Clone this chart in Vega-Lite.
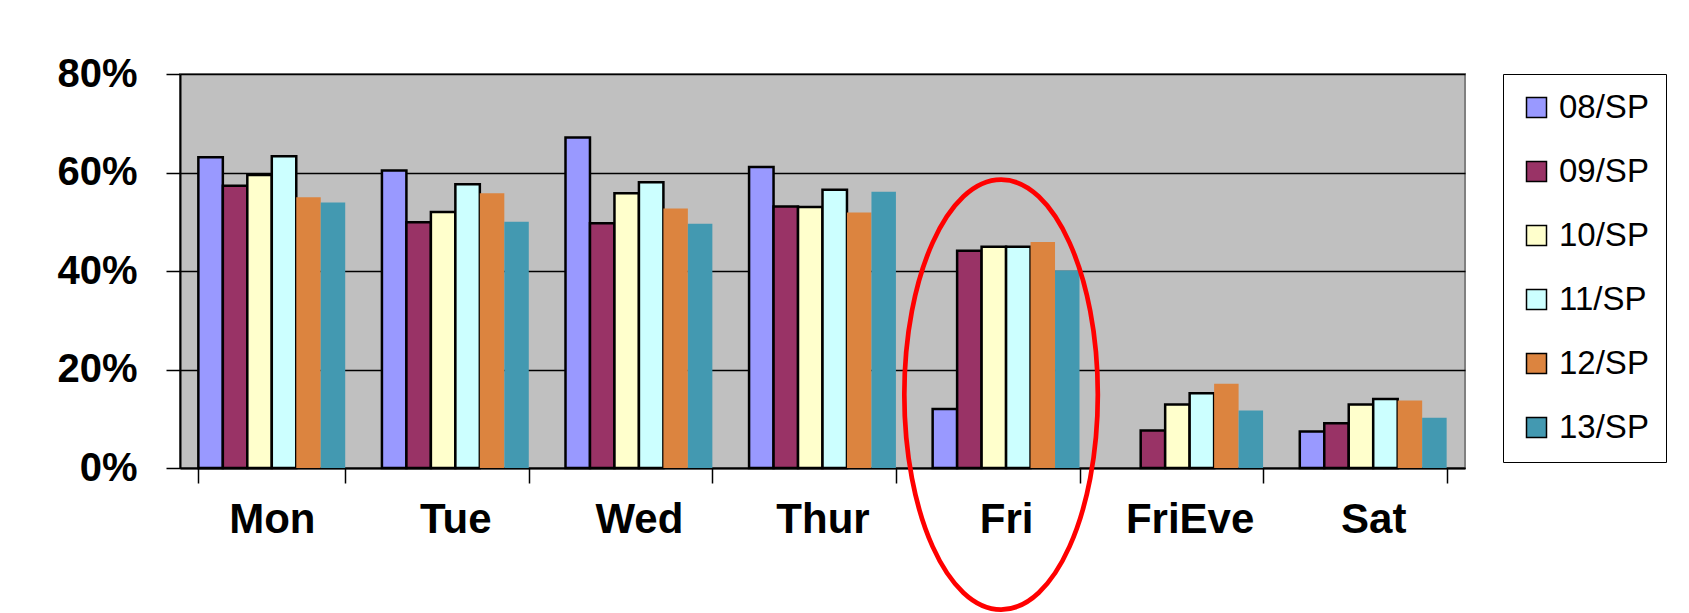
{
  "$schema": "https://vega.github.io/schema/vega-lite/v6.json",
  "autosize": "none",
  "width": 1285,
  "height": 394,
  "padding": {"left": 180, "top": 74, "right": 224, "bottom": 145},
  "background": "white",
  "config": {
    "font": "Liberation Sans",
    "view": {"fill": "#C0C0C0", "stroke": "#808080", "strokeWidth": 2}
  },
  "datasets": {
    "bars": [
      {"day": "Mon", "series": "08/SP", "value": 63.1},
      {"day": "Mon", "series": "09/SP", "value": 57.3},
      {"day": "Mon", "series": "10/SP", "value": 59.5},
      {"day": "Mon", "series": "11/SP", "value": 63.3},
      {"day": "Mon", "series": "12/SP", "value": 55.0},
      {"day": "Mon", "series": "13/SP", "value": 53.9},
      {"day": "Tue", "series": "08/SP", "value": 60.4},
      {"day": "Tue", "series": "09/SP", "value": 49.9},
      {"day": "Tue", "series": "10/SP", "value": 52.0},
      {"day": "Tue", "series": "11/SP", "value": 57.6},
      {"day": "Tue", "series": "12/SP", "value": 55.8},
      {"day": "Tue", "series": "13/SP", "value": 50.0},
      {"day": "Wed", "series": "08/SP", "value": 67.1},
      {"day": "Wed", "series": "09/SP", "value": 49.7},
      {"day": "Wed", "series": "10/SP", "value": 55.8},
      {"day": "Wed", "series": "11/SP", "value": 58.0},
      {"day": "Wed", "series": "12/SP", "value": 52.7},
      {"day": "Wed", "series": "13/SP", "value": 49.6},
      {"day": "Thur", "series": "08/SP", "value": 61.1},
      {"day": "Thur", "series": "09/SP", "value": 53.1},
      {"day": "Thur", "series": "10/SP", "value": 53.0},
      {"day": "Thur", "series": "11/SP", "value": 56.5},
      {"day": "Thur", "series": "12/SP", "value": 51.9},
      {"day": "Thur", "series": "13/SP", "value": 56.1},
      {"day": "Fri", "series": "08/SP", "value": 12.0},
      {"day": "Fri", "series": "09/SP", "value": 44.1},
      {"day": "Fri", "series": "10/SP", "value": 44.9},
      {"day": "Fri", "series": "11/SP", "value": 44.9},
      {"day": "Fri", "series": "12/SP", "value": 45.9},
      {"day": "Fri", "series": "13/SP", "value": 40.1},
      {"day": "FriEve", "series": "09/SP", "value": 7.6},
      {"day": "FriEve", "series": "10/SP", "value": 12.9},
      {"day": "FriEve", "series": "11/SP", "value": 15.2},
      {"day": "FriEve", "series": "12/SP", "value": 17.1},
      {"day": "FriEve", "series": "13/SP", "value": 11.7},
      {"day": "Sat", "series": "08/SP", "value": 7.4},
      {"day": "Sat", "series": "09/SP", "value": 9.1},
      {"day": "Sat", "series": "10/SP", "value": 12.9},
      {"day": "Sat", "series": "11/SP", "value": 14.0},
      {"day": "Sat", "series": "12/SP", "value": 13.7},
      {"day": "Sat", "series": "13/SP", "value": 10.2}
    ],
    "highlight": [
      {"day": "Fri", "value": 14.9}
    ]
  },
  "layer": [
    {
      "data": {"name": "bars"},
      "mark": {"type": "bar", "stroke": "black"},
      "encoding": {
        "x": {
          "field": "day",
          "type": "nominal",
          "sort": ["Mon", "Tue", "Wed", "Thur", "Fri", "FriEve", "Sat"],
          "scale": {"paddingInner": 0.2, "paddingOuter": 0.1},
          "axis": {
            "title": null,
            "labelAngle": 0,
            "labelFontSize": 42,
            "labelFontWeight": "bold",
            "labelColor": "black",
            "labelPadding": 16,
            "tickSize": 15,
            "tickColor": "black",
            "tickWidth": 1.5,
            "tickBand": "extent",
            "domainColor": "black",
            "domainWidth": 2,
            "grid": false
          }
        },
        "xOffset": {
          "field": "series",
          "type": "nominal",
          "scale": {"paddingInner": 0, "paddingOuter": 0}
        },
        "y": {
          "field": "value",
          "type": "quantitative",
          "scale": {"domain": [0, 80], "nice": false},
          "axis": {
            "title": null,
            "values": [0, 20, 40, 60, 80],
            "labelExpr": "datum.value + '%'",
            "labelFontSize": 40,
            "labelFontWeight": "bold",
            "labelColor": "black",
            "labelPadding": 29,
            "tickSize": 14,
            "tickColor": "black",
            "tickWidth": 1.5,
            "domainColor": "black",
            "domainWidth": 2,
            "grid": true,
            "gridColor": "black",
            "gridWidth": 1.5
          }
        },
        "color": {
          "field": "series",
          "type": "nominal",
          "scale": {
            "domain": ["08/SP", "09/SP", "10/SP", "11/SP", "12/SP", "13/SP"],
            "range": ["#9999FF", "#993366", "#FFFFCC", "#CCFFFF", "#DC843F", "#4399B1"]
          },
          "legend": {
            "title": null,
            "orient": "right",
            "offset": 38,
            "padding": 17,
            "strokeColor": "black",
            "fillColor": "white",
            "labelFontSize": 33,
            "labelColor": "black",
            "labelOffset": 6,
            "symbolType": "square",
            "symbolSize": 400,
            "symbolOpacity": 1,
            "rowPadding": 30,
            "encode": {
              "symbols": {
                "update": {
                  "stroke": {"signal": "indexof(['12/SP','13/SP'], datum.value) >= 0 ? 'transparent' : 'black'"},
                  "strokeWidth": {"value": 2.5}
                }
              }
            }
          }
        },
        "strokeWidth": {
          "condition": {"test": "indexof(['12/SP','13/SP'], datum.series) >= 0", "value": 0},
          "value": 2.5
        }
      }
    },
    {
      "data": {"name": "highlight"},
      "mark": {
        "type": "point",
        "shape": "M0,-1A0.45,1,0,1,1,0,1A0.45,1,0,1,1,0,-1Z",
        "size": 184900,
        "filled": false,
        "stroke": "#FF0000",
        "strokeWidth": 4.7,
        "opacity": 1,
        "xOffset": -5,
        "clip": false
      },
      "encoding": {
        "x": {"field": "day", "type": "nominal", "sort": ["Mon", "Tue", "Wed", "Thur", "Fri", "FriEve", "Sat"]},
        "y": {"field": "value", "type": "quantitative"}
      }
    }
  ]
}
